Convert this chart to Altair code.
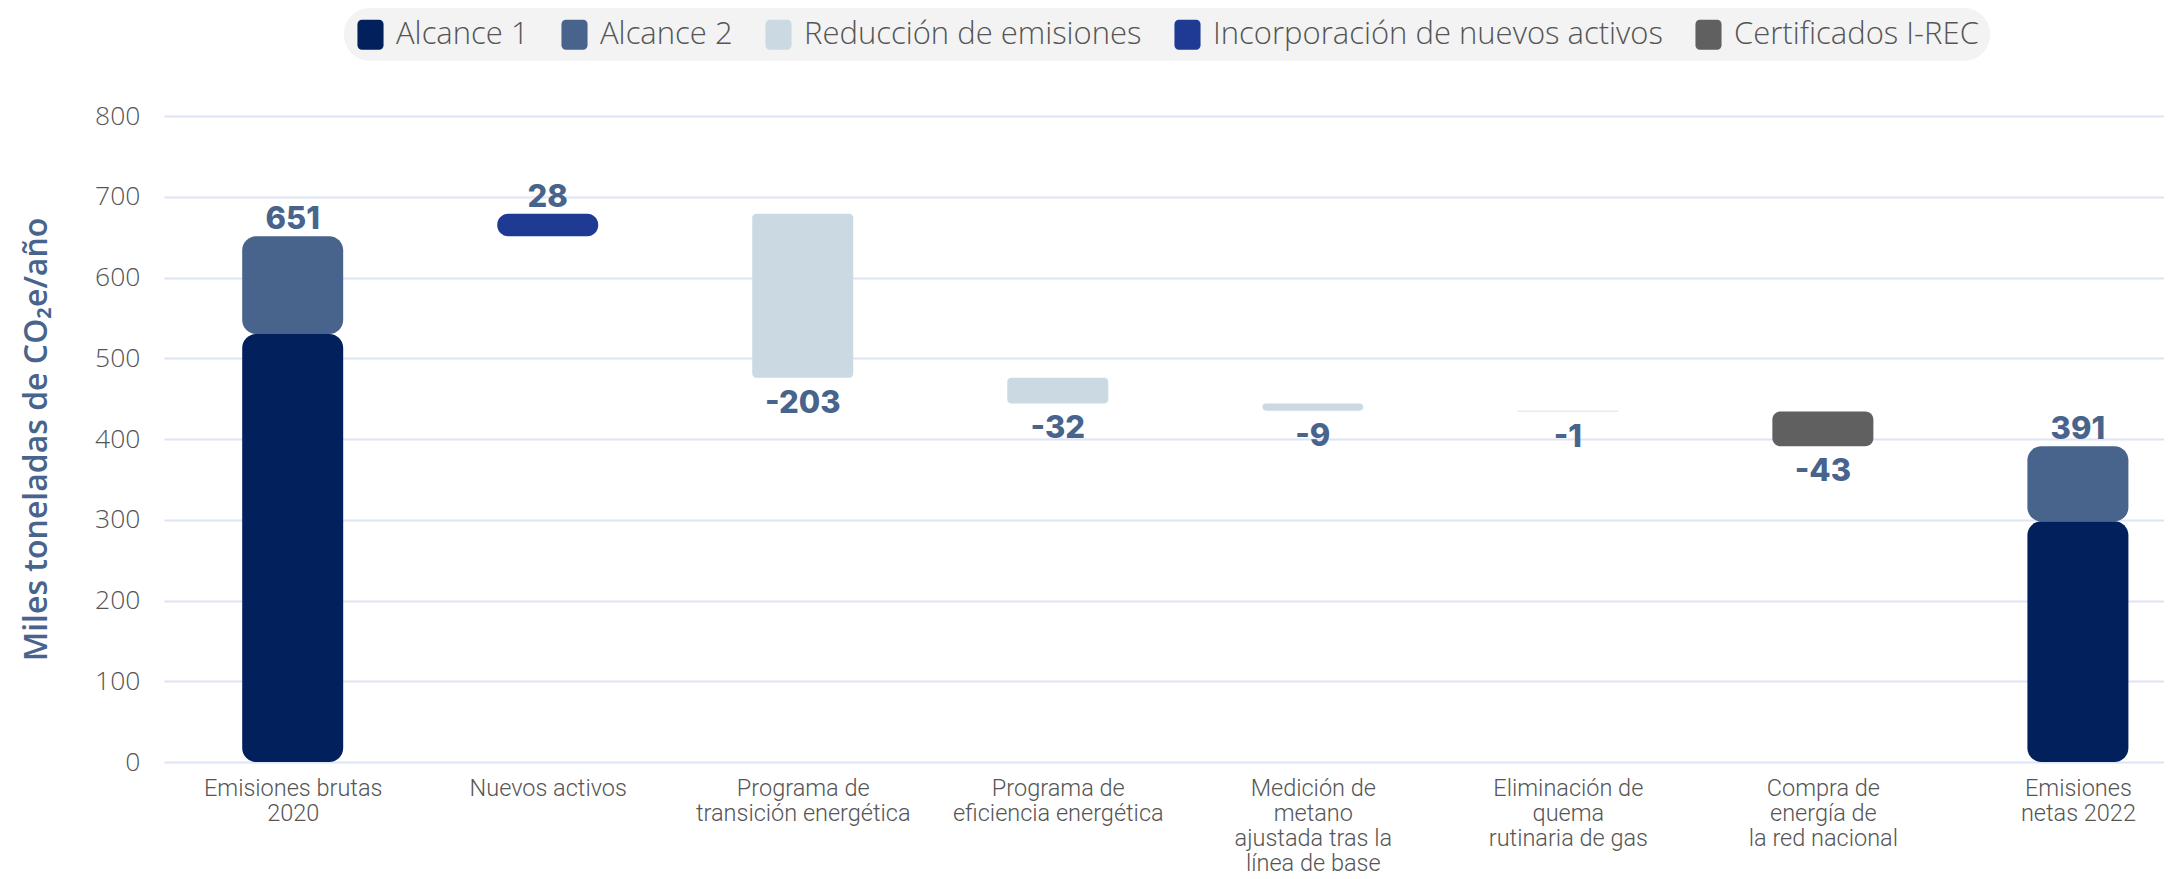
import altair as alt
import pandas as pd
import json

# ---------------- data ----------------
label_lines = [
    ["Emisiones brutas", "2020"],
    ["Nuevos activos"],
    ["Programa de", "transición energética"],
    ["Programa de", "eficiencia energética"],
    ["Medición de", "metano", "ajustada tras la", "línea de base"],
    ["Eliminación de", "quema", "rutinaria de gas"],
    ["Compra de", "energía de", "la red nacional"],
    ["Emisiones", "netas 2022"],
]

series_names = ["Alcance 1", "Alcance 2", "Reducción de emisiones",
                "Incorporación de nuevos activos", "Certificados I-REC"]
series_colors = ["#02205c", "#48648c", "#cad9e2", "#1f3a93", "#606060"]

# stacked totals (first and last column)
total_idx = [0, 7]
alcance1 = [530, 298]
alcance2 = [121, 93]

# waterfall steps
step_idx = [1, 2, 3, 4, 5, 6]
step_values = [28, -203, -32, -9, -1, -43]
step_series = ["Incorporación de nuevos activos", "Reducción de emisiones",
               "Reducción de emisiones", "Reducción de emisiones",
               "Reducción de emisiones", "Certificados I-REC"]

# ---------------- tables ----------------
bars = []
labels = []
for i, a1, a2 in zip(total_idx, alcance1, alcance2):
    bars.append({"idx": i, "start": 0, "end": a1, "series": "Alcance 1"})
    bars.append({"idx": i, "start": a1, "end": a1 + a2, "series": "Alcance 2"})
    labels.append({"idx": i, "y": a1 + a2, "text": str(a1 + a2), "pos": "above"})

running = alcance1[0] + alcance2[0]
for i, v, s in zip(step_idx, step_values, step_series):
    new = running + v
    bars.append({"idx": i, "start": running, "end": new, "series": s})
    if v >= 0:
        labels.append({"idx": i, "y": new, "text": str(v), "pos": "above"})
    else:
        labels.append({"idx": i, "y": new, "text": str(v), "pos": "below"})
    running = new

bars_df = pd.DataFrame(bars)
labels_df = pd.DataFrame(labels)

label_expr = json.dumps(label_lines, ensure_ascii=False) + "[datum.value]"

FONT = "Open Sans"
LIGHT = 300

x_enc = alt.X(
    "idx:Q",
    scale=alt.Scale(domain=[-0.485, 7.318], nice=False, zero=False),
    axis=alt.Axis(
        values=list(range(8)), labelExpr=label_expr, title=None,
        grid=False, ticks=False, domain=False,
        labelFont="Roboto", labelFontWeight=LIGHT, labelFontSize=23.5,
        labelColor="#555555", labelPadding=14, labelLineHeight=25,
        labelOverlap=False, labelBound=False, labelFlush=False, labelLimit=0,
        labelAlign="center", labelBaseline="top",
    ),
)
y_enc = alt.Y(
    "start:Q",
    scale=alt.Scale(domain=[0, 800], nice=False),
    axis=alt.Axis(
        values=list(range(0, 801, 100)), title="Miles toneladas de CO₂e/año",
        grid=True, gridColor="#dde4f6", gridWidth=2, ticks=False, domain=False,
        labelFont=FONT, labelFontWeight=LIGHT, labelFontSize=26.5,
        labelColor="#555555", labelPadding=24,
        titleFont=FONT, titleFontWeight=600, titleFontSize=32,
        titleColor="#48648c", titleX=-128, titleBaseline="middle",
    ),
)

symbol_path = ("M-0.57,-1 H0.57 A0.3,0.3 0 0 1 0.87,-0.7 V0.7 A0.3,0.3 0 0 1 0.57,1 "
               "H-0.57 A0.3,0.3 0 0 1 -0.87,0.7 V-0.7 A0.3,0.3 0 0 1 -0.57,-1 Z")

color_enc = alt.Color(
    "series:N",
    scale=alt.Scale(domain=series_names, range=series_colors),
    legend=alt.Legend(
        orient="none", legendX=180, legendY=-108, direction="horizontal",
        columns=5, title=None, symbolType=symbol_path, symbolSize=900,
        symbolStrokeWidth=0, labelFont=FONT, labelFontWeight=LIGHT,
        labelFontSize=31, labelColor="#555555", labelOffset=10, labelLimit=0,
        columnPadding=30, fillColor="#f3f3f3", cornerRadius=26, padding=11,
        symbolOpacity=1,
    ),
)

def bar_layer(names, radius):
    df = bars_df[bars_df["series"].isin(names)]
    return alt.Chart(df).mark_bar(width=101, cornerRadius=radius, opacity=1).encode(
        x=x_enc, y=y_enc, y2="end:Q", color=color_enc
    )

layers = [
    bar_layer(["Alcance 1", "Alcance 2"], 14),
    bar_layer(["Incorporación de nuevos activos"], 11),
    bar_layer(["Reducción de emisiones"], 4),
    bar_layer(["Certificados I-REC"], 8),
]

text_above = alt.Chart(labels_df[labels_df["pos"] == "above"]).mark_text(
    font="Inter", fontWeight=800, fontSize=31, color="#48648c",
    baseline="alphabetic", dy=-7
).encode(x=alt.X("idx:Q"), y=alt.Y("y:Q"), text="text:N")

text_below = alt.Chart(labels_df[labels_df["pos"] == "below"]).mark_text(
    font="Inter", fontWeight=800, fontSize=31, color="#48648c",
    baseline="alphabetic", dy=35
).encode(x=alt.X("idx:Q"), y=alt.Y("y:Q"), text="text:N")

chart = alt.layer(*layers, text_above, text_below).properties(
    width=2000, height=646,
    padding={"left": 12, "top": 0, "right": 0, "bottom": 0},
    background="white",
).configure_view(stroke=None)

chart.save("out.html", embed_options={"renderer": "svg", "actions": False})
